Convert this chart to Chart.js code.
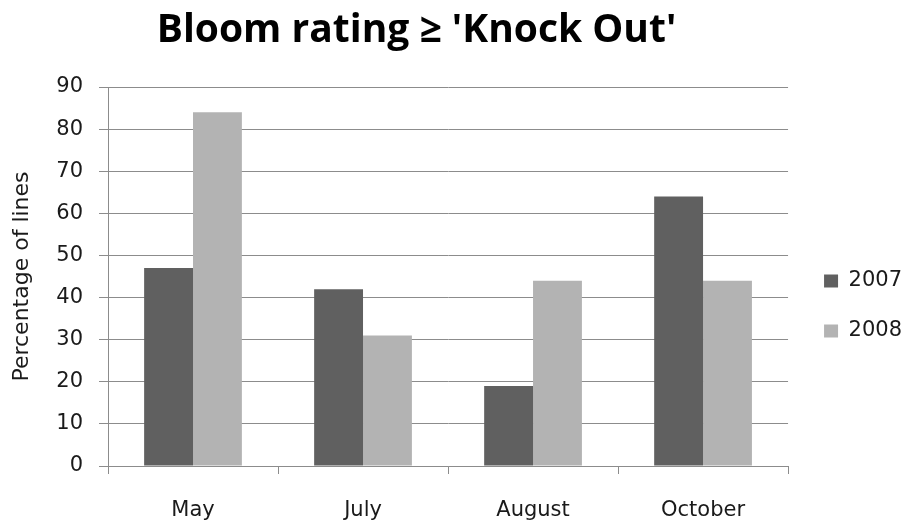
<!DOCTYPE html>
<html>
<head>
<meta charset="utf-8">
<script src="https://cdn.jsdelivr.net/npm/chart.js@4"></script>
<style>
  html, body { margin: 0; padding: 0; background: #fff; }
  #wrap { position: relative; width: 908px; height: 525px; }
  #title { position: absolute; left: 0; top: 7px; width: 833px; text-align: center;
    font: bold 39px/1 "Open Sans", sans-serif; color: #000; margin: 0; }
  canvas { position: absolute; left: 0; top: 0; }
</style>
</head>
<body>
<div id="wrap">
  <canvas id="chart" width="908" height="525"></canvas>
  <h1 id="title">Bloom rating ≥ 'Knock Out'</h1>
</div>
<script>
const months = ['May', 'July', 'August', 'October'];
const values2007 = [47, 42, 19, 64];
const values2008 = [84, 31, 44, 44];
const yTicks = [0, 10, 20, 30, 40, 50, 60, 70, 80, 90];

const textColor = '#1a1a1a';
const gridColor = '#8c8c8c';
const labelFont = { family: 'DejaVu Sans', size: 21 };

// nudge the legend a bit to the right of the plot, like the original
const legendShift = {
  id: 'legendShift',
  afterLayout(chart) {
    chart.legend.left += 7;
    chart.legend.right += 7;
  }
};

new Chart(document.getElementById('chart'), {
  type: 'bar',
  data: {
    labels: months,
    datasets: [
      { label: '2007', data: values2007, backgroundColor: '#606060', categoryPercentage: 0.575, barPercentage: 1 },
      { label: '2008', data: values2008, backgroundColor: '#b3b3b3', categoryPercentage: 0.575, barPercentage: 1 }
    ]
  },
  plugins: [legendShift],
  options: {
    responsive: false,
    animation: false,
    layout: { padding: { top: 87, right: 3, bottom: 0, left: 0 } },
    plugins: {
      title: { display: false },
      tooltip: { enabled: false },
      legend: {
        position: 'right',
        labels: { font: labelFont, color: textColor, boxWidth: 14, boxHeight: 13, padding: 29 }
      }
    },
    scales: {
      y: {
        min: 0,
        max: 90,
        afterBuildTicks: (scale) => { scale.ticks = yTicks.map((v) => ({ value: v })); },
        afterFit: (scale) => { scale.width = 108; },
        ticks: { font: labelFont, color: textColor, padding: 16 },
        grid: { color: gridColor, lineWidth: 1, tickLength: 9 },
        border: { color: gridColor },
        title: { display: true, text: 'Percentage of lines', font: { family: 'DejaVu Sans', size: 22 }, color: textColor, padding: { top: 9, bottom: 0 } }
      },
      x: {
        afterFit: (scale) => { scale.height = 59; },
        ticks: { font: labelFont, color: textColor, padding: 24 },
        grid: { drawOnChartArea: false, color: gridColor, tickLength: 8, offset: true },
        border: { color: gridColor }
      }
    }
  }
});
</script>
</body>
</html>
